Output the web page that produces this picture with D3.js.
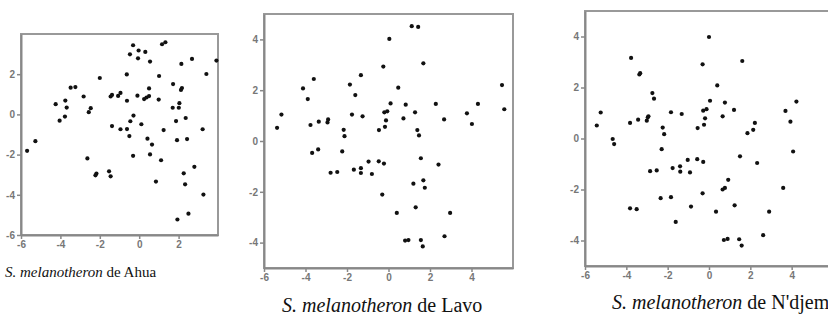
<!DOCTYPE html>
<html>
<head>
<meta charset="utf-8">
<script src="https://cdn.jsdelivr.net/npm/d3@7"></script>
<style>
  body { margin: 0; background: #fff; }
  svg { display: block; }
  .tick text { font-family: "Liberation Sans", Arial, sans-serif; font-size: 10px; font-weight: bold; fill: #777; }
  .tick line { stroke: #888; stroke-width: 1.5; }
  .domain { stroke: #888; stroke-width: 2; }
  .cap { font-family: "Liberation Serif", "Times New Roman", serif; fill: #111; }
</style>
</head>
<body>
<svg width="828" height="316"></svg>
<script>
// Ahua
let ahuaX = [-2.0, -3.48, -3.24, -4.24, -3.75, -3.68, -2.82, -2.46, -2.56, -3.77, -4.04, -1.45, -1.38, -1.07, -0.95, -1.38, -0.95, -5.27,
    -0.31, 1.16, 1.33, -0.03, 0.31, -0.47, -0.06, 0.55, 2.14, 2.68, 3.92, 3.41, -0.63, 1.01, 1.72, 2.17, 2.12, 0.5, -0.62, -0.09,
    0.25, 0.37, 0.5, 0.99, 2.04, 1.7, 2.01, -0.29, 2.36, -0.45, 0.11, 1.87, -0.62, -0.5, 1.24, 3.22, 0.42, 1.92, 2.43, 0.65,
    -0.31, 0.55, 1.11, 2.8, 2.26, 2.33, 0.85, 3.26, 2.5, 1.94, -5.69, -2.63, -2.17, -2.22, -1.53, -1.45];
let ahuaY = [1.81, 1.33, 1.36, 0.51, 0.69, 0.34, 0.89, 0.31, 0.11, -0.11, -0.31, 0.89, 0.97, 0.92, 1.07, -0.58, -0.74, -1.33,
    3.44, 3.49, 3.59, 3.18, 3.11, 2.99, 2.79, 2.63, 2.51, 2.76, 2.68, 2.01, 1.99, 1.91, 1.51, 1.31, 1.22, 1.29, 0.68, 0.93,
    0.76, 0.84, 0.91, 0.74, 0.56, 0.33, 0.33, -0.06, -0.18, -0.34, -0.49, -0.33, -0.73, -1.08, -0.78, -0.74, -1.21, -1.28, -1.23, -1.5,
    -2.06, -1.99, -2.28, -2.61, -2.93, -3.48, -3.34, -3.99, -4.94, -5.23, -1.81, -2.19, -2.94, -3.03, -2.83, -3.08];

// Lavo
let lavoX = [-5.37, -5.16, -4.12, -3.6, -3.89, -3.76, -3.36, -2.94, -2.91, -2.16, -2.12, -1.86, -1.6, -1.33, -1.76, -1.25, -0.46,
    -0.25, 0.04, -0.17, -0.12, -0.2, -0.06, 0.1, 1.12, 1.43, 1.68, 0.47, 5.47, 0.83, 2.28, 4.31, 5.58, 1.28, 3.78, 0.72, 2.68,
    4.02, 1.39, 1.47, -3.68, -3.39, -2.23, -2.79, -2.47, -1.67, -1.33, -1.33, -0.96, -0.8, -0.47, -0.22, -0.3, 1.56, 2.41, 1.2,
    1.68, 1.75, 0.4, 1.31, 2.97, 2.7, 0.8, 0.96, 1.56, 1.65];
let lavoY = [0.52, 1.04, 2.07, 2.44, 1.65, 0.63, 0.76, 0.73, 0.85, 0.44, 0.19, 2.22, 1.81, 2.59, 1.04, 0.97, 0.43,
    2.93, 4.02, 0.56, 0.81, 1.13, 1.17, 1.48, 4.52, 4.49, 3.06, 2.1, 2.2, 1.43, 1.46, 1.46, 1.25, 1.13, 1.09, 0.89, 0.85,
    0.67, 0.43, 0.22, -0.47, -0.33, -0.41, -1.25, -1.22, -1.13, -1.07, -1.26, -0.81, -1.3, -0.8, -0.89, -2.11, -0.68, -0.93, -1.68,
    -1.55, -1.84, -2.83, -2.61, -2.83, -3.75, -3.92, -3.9, -3.9, -4.15];

// N'djem
let ndjemX = [-3.77, -3.37, -3.33, -2.74, -2.66, -5.24, -5.43, -3.82, -3.43, -3.01, -2.96, -2.93, -1.84, -1.32, -2.24, -2.17,
    -4.66, -4.59, 0.0, -0.31, 1.61, 0.4, 4.23, 0.05, 0.77, -0.28, -0.12, 0.66, 1.21, 3.7, -0.19, -0.24, -0.55, 2.22, 2.14, 1.86,
    3.94, -2.29, -2.85, -2.53, -1.76, -1.4, -1.39, -1.03, -0.92, -2.34, -1.84, -3.82, -3.5, -1.61, -0.87, -0.57, -0.28, 1.5,
    2.33, 4.07, 0.93, 0.66, 0.77, -0.31, 3.59, 1.24, 0.34, 2.91, 2.62, 0.72, 0.9, 1.46, 1.58];
let ndjemY = [3.16, 2.51, 2.56, 1.78, 1.56, 1.02, 0.51, 0.61, 0.74, 0.7, 0.83, 0.87, 1.03, 0.96, 0.43, 0.17,
    -0.02, -0.22, 3.98, 2.91, 3.04, 2.08, 1.45, 1.48, 1.41, 1.09, 1.15, 0.87, 1.12, 1.08, 0.79, 0.54, 0.41, 0.61, 0.34, 0.21,
    0.66, -0.42, -1.28, -1.25, -1.16, -1.09, -1.3, -0.84, -1.33, -2.34, -2.3, -2.74, -2.77, -3.27, -2.67, -0.81, -0.92, -0.7,
    -0.96, -0.51, -1.62, -2.0, -1.94, -2.15, -1.94, -2.62, -2.87, -2.87, -3.79, -3.98, -3.94, -3.95, -4.2];

let ticksA = [-6, -4, -2, 0, 2];
let ticksX = [-6, -4, -2, 0, 2, 4];
let ticksY = [-4, -2, 0, 2, 4];

let svg = d3.select("svg");
let fmt = function (d) { return String(d); };

let panels = [
    {xs: ahuaX, ys: ahuaY, xd: [-6, 4], yd: [-6, 4], xr: [21, 218], yr: [235, 34], xt: ticksA, yt: ticksA,
        cap: "de Ahua", cx: 5, cy: 277, fs: 15},
    {xs: lavoX, ys: lavoY, xd: [-6, 6], yd: [-5, 5], xr: [264, 513], yr: [268, 14], xt: ticksX, yt: ticksY,
        cap: "de Lavo", cx: 282, cy: 312, fs: 20},
    {xs: ndjemX, ys: ndjemY, xd: [-6, 6], yd: [-5, 5], xr: [585, 833], yr: [266, 11], xt: ticksX, yt: ticksY,
        cap: "de N'djem", cx: 612, cy: 309, fs: 20}
];

panels.forEach(function (p) {
    let x = d3.scaleLinear().domain(p.xd).range(p.xr);
    let y = d3.scaleLinear().domain(p.yd).range(p.yr);
    let g = svg.append("g");

    // frame (top / right)
    g.append("rect")
        .attr("x", p.xr[0]).attr("y", p.yr[1])
        .attr("width", p.xr[1] - p.xr[0]).attr("height", p.yr[0] - p.yr[1])
        .attr("fill", "none").attr("stroke", "#999").attr("stroke-width", 2);

    g.append("g").attr("transform", "translate(0," + p.yr[0] + ")")
        .call(d3.axisBottom(x).tickValues(p.xt).tickFormat(fmt).tickSize(4).tickPadding(2).tickSizeOuter(0));
    g.append("g").attr("transform", "translate(" + p.xr[0] + ",0)")
        .call(d3.axisLeft(y).tickValues(p.yt).tickFormat(fmt).tickSize(4).tickPadding(2).tickSizeOuter(0));

    g.selectAll("circle.pt").data(d3.range(p.xs.length)).enter().append("circle")
        .attr("class", "pt")
        .attr("cx", function (i) { return x(p.xs[i]); })
        .attr("cy", function (i) { return y(p.ys[i]); })
        .attr("r", 2.1)
        .attr("fill", "#111");

    let t = svg.append("text").attr("class", "cap")
        .attr("x", p.cx).attr("y", p.cy).style("font-size", p.fs + "px");
    t.append("tspan").style("font-style", "italic").text("S. melanotheron");
    t.append("tspan").text(" " + p.cap);
});
</script>
</body>
</html>
